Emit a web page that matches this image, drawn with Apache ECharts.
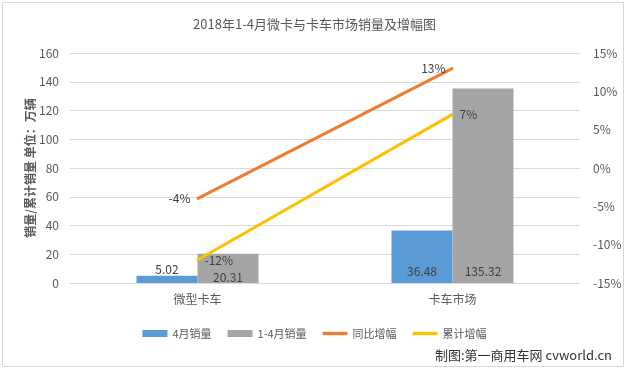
<!DOCTYPE html>
<html>
<head>
<meta charset="utf-8">
<script src="https://cdn.jsdelivr.net/npm/echarts@6/dist/echarts.min.js"></script>
<style>
html,body{margin:0;padding:0;background:#fff;}
#c{width:629px;height:371px;}
</style>
</head>
<body>
<div id="c"></div>
<script>
const categories = ['微型卡车', '卡车市场'];
const aprilSales = [5.02, 36.48];
const ytdSales = [20.31, 135.32];
const yoyGrowth = [-4, 13];
const ytdGrowth = [-12, 7];
const leftTicks = [0, 160, 20];
const rightTicks = [-15, 15, 5];

const FONT = '"Noto Sans CJK SC", "Noto Sans", sans-serif';
const chart = echarts.init(document.getElementById('c'), null, {renderer: 'canvas'});
const txt = '#595959';
const lab = '#404040';
const lineIcon = 'path://M0,0 L30,0 L30,4 L0,4 Z';

chart.setOption({
  backgroundColor: '#fff',
  animation: false,
  textStyle: {fontFamily: FONT},
  title: {
    text: '2018年1-4月微卡与卡车市场销量及增幅图',
    left: 'center', top: 13,
    textStyle: {fontSize: 13, fontWeight: 'normal', color: txt, fontFamily: FONT}
  },
  graphic: [
    {type: 'rect', shape: {x: 2.5, y: 2.5, width: 621, height: 364}, style: {fill: 'none', stroke: '#d9d9d9', lineWidth: 1}, z: 100},
    {type: 'text', right: 17, top: 349, style: {text: '制图:第一商用车网 cvworld.cn', fontSize: 13, fill: '#333', fontFamily: FONT}}
  ],
  legend: {
    left: 'center', top: 323,
    itemGap: 16,
    itemWidth: 25, itemHeight: 7,
    textStyle: {fontSize: 11, color: txt, fontFamily: FONT},
    data: [
      {name: '4月销量', icon: 'rect'},
      {name: '1-4月销量', icon: 'rect'},
      {name: '同比增幅', icon: lineIcon},
      {name: '累计增幅', icon: lineIcon}
    ]
  },
  grid: {left: 70, right: 49, top: 53, bottom: 88},
  xAxis: {
    type: 'category',
    data: categories,
    axisLine: {lineStyle: {color: '#d9d9d9'}},
    axisTick: {show: false},
    axisLabel: {color: txt, fontSize: 12, margin: 10, fontFamily: FONT}
  },
  yAxis: [
    {
      type: 'value', min: leftTicks[0], max: leftTicks[1], interval: leftTicks[2],
      name: '销量/累计销量 单位：万辆',
      nameLocation: 'middle', nameGap: 34, nameRotate: 90, nameMoveOverlap: false,
      nameTextStyle: {color: txt, fontSize: 12, fontWeight: 'bold', fontFamily: FONT},
      axisLine: {show: false}, axisTick: {show: false},
      axisLabel: {color: txt, fontSize: 12, margin: 11},
      splitLine: {lineStyle: {color: '#d9d9d9'}}
    },
    {
      type: 'value', min: rightTicks[0], max: rightTicks[1], interval: rightTicks[2],
      axisLine: {show: false}, axisTick: {show: false},
      axisLabel: {color: txt, fontSize: 12, margin: 13, formatter: '{value}%'},
      splitLine: {show: false}
    }
  ],
  series: [
    {
      name: '4月销量', type: 'bar', barWidth: 61, barGap: '0%',
      itemStyle: {color: '#5B9BD5'},
      data: aprilSales.map((v, i) => ({
        value: v,
        label: i === 0 ? {position: 'top', distance: 0} : {position: 'insideBottom', distance: 6}
      })),
      label: {show: true, color: lab, fontSize: 12}
    },
    {
      name: '1-4月销量', type: 'bar', barWidth: 61,
      itemStyle: {color: '#A5A5A5'},
      data: ytdSales.map((v, i) => ({
        value: v,
        label: i === 0 ? {position: 'insideBottom', distance: 0} : {position: 'insideBottom', distance: 6}
      })),
      label: {show: true, color: lab, fontSize: 12}
    },
    {
      name: '同比增幅', type: 'line', yAxisIndex: 1,
      symbol: 'circle', symbolSize: 2, showSymbol: true,
      lineStyle: {color: '#ED7D31', width: 3},
      itemStyle: {color: '#ED7D31'},
      data: yoyGrowth,
      label: {show: true, position: 'left', distance: 6, color: lab, fontSize: 12, formatter: '{c}%'}
    },
    {
      name: '累计增幅', type: 'line', yAxisIndex: 1,
      symbol: 'circle', symbolSize: 2, showSymbol: true,
      lineStyle: {color: '#FFC000', width: 3},
      itemStyle: {color: '#FFC000'},
      data: ytdGrowth,
      label: {show: true, position: 'right', distance: 6, color: lab, fontSize: 12, formatter: '{c}%'}
    }
  ]
});
</script>
</body>
</html>
